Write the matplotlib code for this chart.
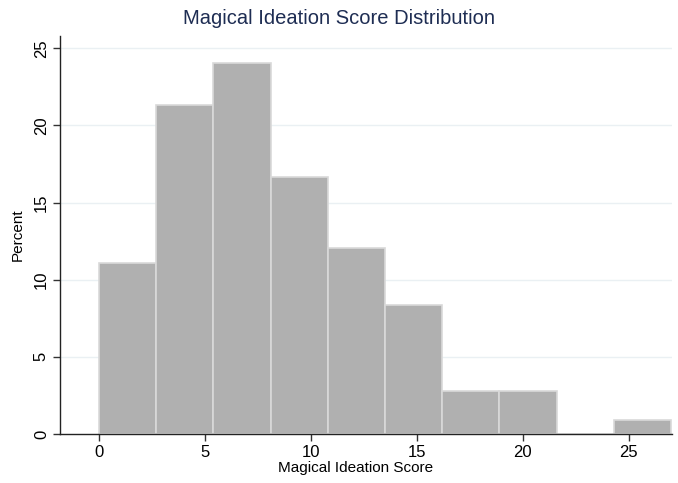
import matplotlib
matplotlib.use('Agg')
import matplotlib.pyplot as plt
import numpy as np

# Histogram of magical ideation scores (percent of respondents per bin)
bin_edges = [0, 2.7, 5.4, 8.1, 10.8, 13.5, 16.2, 18.9, 21.6, 24.3, 27.0]
percents = [11.11, 21.30, 24.07, 16.67, 12.04, 8.33, 2.78, 2.78, 0.0, 0.93]
xticks = [0, 5, 10, 15, 20, 25]
yticks = [0, 5, 10, 15, 20, 25]

plt.rcParams['font.family'] = ['Liberation Sans', 'DejaVu Sans']

W, H = 678, 483
fig = plt.figure(figsize=(W/100, H/100), dpi=100)

# Plot region in pixels: left 60, right 672, top 36, bottom 434
ax = fig.add_axes([60/W, (H-434)/H, (672-60)/W, (434-36)/H])

left = np.array(bin_edges[:-1])
widths = np.diff(bin_edges)
ax.bar(left, percents, width=widths, align='edge', color='#b0b0b0',
       edgecolor='#d9d9d9', linewidth=1.2, zorder=2)

ax.set_xlim(-1.84, 27.05)
ax.set_ylim(0, 25.8)

# Light horizontal grid, none at zero
for y in yticks[1:]:
    ax.axhline(y, color='#eaf0f3', linewidth=1.0, zorder=1)

for side in ['top', 'right']:
    ax.spines[side].set_visible(False)
for side in ['left', 'bottom']:
    ax.spines[side].set_color('#222222')
    ax.spines[side].set_linewidth(1.0)

ax.set_xticks(xticks)
ax.set_yticks(yticks)
ax.tick_params(axis='both', direction='out', length=5, width=1,
               color='#333333', labelsize=12, labelcolor='black')
ax.tick_params(axis='x', pad=3)
ax.tick_params(axis='y', pad=3)
for lab in ax.get_yticklabels():
    lab.set_rotation(90)
    lab.set_va('center')

ax.set_xlabel('Magical Ideation Score', fontsize=11, labelpad=0)
ax.xaxis.set_label_coords((356-60)/612, -0.068)
ax.set_ylabel('Percent', fontsize=11)
ax.yaxis.set_label_coords(-0.058, 0.5)

fig.text(0.5, 1 - 19/H, 'Magical Ideation Score Distribution', ha='center',
         va='center', fontsize=14.5, color='#1e2d53')

fig.savefig('out.png', dpi=100, facecolor='white')
